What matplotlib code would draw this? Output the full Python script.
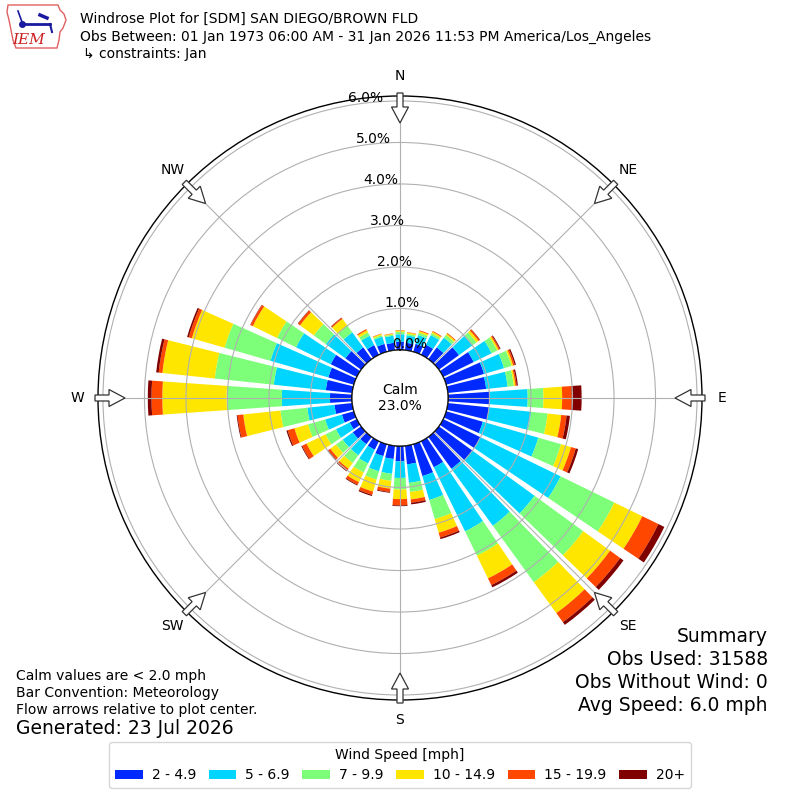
import numpy as np
import matplotlib
matplotlib.use("Agg")
import matplotlib.pyplot as plt
import matplotlib.transforms as mtransforms
from matplotlib.patches import Circle, FancyArrow, Patch, Polygon

# datos (porcentaje acumulado por direccion) --------------------------------------------
direcciones = list(range(0, 360, 10))

acum_2_5 = [0.20, 0.18, 0.20, 0.27, 0.35, 0.60, 0.82, 0.95, 0.93, 1.00, 1.00, 0.92,
            1.00, 1.00, 0.95, 0.70, 0.80, 0.45, 0.37, 0.32, 0.30, 0.23, 0.22, 0.25,
            0.19, 0.30, 0.43, 0.53, 0.64, 0.64, 0.70, 0.47, 0.35, 0.26, 0.20, 0.18]
acum_5_7 = [0.38, 0.36, 0.42, 0.53, 0.64, 1.00, 1.30, 1.45, 1.45, 1.92, 2.02, 2.31,
            3.15, 2.85, 2.65, 2.42, 1.40, 0.90, 0.77, 0.68, 0.68, 0.60, 0.55, 0.55,
            0.56, 0.72, 1.09, 1.69, 1.90, 2.09, 1.63, 1.05, 0.80, 0.51, 0.38, 0.35]
acum_7_10 = [0.44, 0.40, 0.48, 0.58, 0.72, 1.12, 1.45, 1.64, 1.60, 2.30, 2.42, 2.88,
             4.59, 4.30, 4.33, 3.07, 1.88, 1.12, 1.05, 0.85, 0.89, 0.84, 0.78, 0.75,
             0.84, 1.15, 1.74, 3.02, 3.33, 3.24, 2.14, 1.41, 1.00, 0.60, 0.42, 0.38]
acum_10_15 = [0.47, 0.43, 0.52, 0.62, 0.76, 1.18, 1.49, 1.68, 1.64, 2.75, 2.75, 3.13,
              5.34, 5.10, 5.25, 3.68, 2.22, 1.30, 1.28, 1.04, 1.19, 1.10, 0.95, 0.92,
              1.35, 1.49, 2.64, 4.57, 4.60, 4.06, 2.79, 1.82, 1.20, 0.66, 0.45, 0.40]
acum_15_20 = [0.48, 0.44, 0.54, 0.64, 0.78, 1.22, 1.52, 1.72, 1.67, 2.98, 2.88, 3.25,
              5.77, 5.40, 5.52, 3.86, 2.34, 1.38, 1.43, 1.12, 1.27, 1.17, 1.01, 0.98,
              1.47, 1.66, 2.78, 4.83, 4.69, 4.14, 2.85, 1.88, 1.23, 0.69, 0.46, 0.41]
acum_20 = [0.48, 0.44, 0.54, 0.64, 0.78, 1.23, 1.54, 1.75, 1.70, 3.22, 2.96, 3.31,
           5.93, 5.50, 5.60, 3.92, 2.38, 1.42, 1.45, 1.14, 1.30, 1.19, 1.03, 1.00,
           1.49, 1.69, 2.80, 4.92, 4.75, 4.18, 2.86, 1.89, 1.24, 0.69, 0.46, 0.41]

etiquetas_vel = ["2 - 4.9", "5 - 6.9", "7 - 9.9", "10 - 14.9", "15 - 19.9", "20+"]
etiquetas_rumbo = ["N", "NE", "E", "SE", "S", "SW", "W", "NW"]
ticks_r = [0, 1, 2, 3, 4, 5, 6]
calma = 23.0

titulo = ["Windrose Plot for [SDM] SAN DIEGO/BROWN FLD",
          "Obs Between: 01 Jan 1973 06:00 AM - 31 Jan 2026 11:53 PM America/Los_Angeles",
          "\u21b3 constraints: Jan"]
notas = ["Calm values are < 2.0 mph", "Bar Convention: Meteorology",
         "Flow arrows relative to plot center."]
generado = "Generated: 23 Jul 2026"
resumen = ["Summary", "Obs Used: 31588", "Obs Without Wind: 0", "Avg Speed: 6.0 mph"]

# figura ---------------------------------------------------------------------------------
fig = plt.figure(figsize=(8, 8), dpi=100, facecolor="white")
ax = fig.add_axes([0.1225, 0.125, 0.755, 0.755], projection="polar")
ax.set_theta_zero_location("N")
ax.set_theta_direction(-1)

r0 = 48.0 / 41.5
ax.set_rorigin(-r0)
ax.set_ylim(0, 6.12)

colores = plt.cm.jet(np.linspace(1 / 6, 1, 6))
acumulados = [acum_2_5, acum_5_7, acum_7_10, acum_10_15, acum_15_20, acum_20]
theta = np.radians(direcciones)
ancho = np.radians(8.0)
base = np.zeros(len(direcciones))
for tope, color in zip(acumulados, colores):
    tope = np.asarray(tope)
    ax.bar(theta, tope - base, width=ancho, bottom=base, color=color,
           edgecolor="none", linewidth=0, zorder=1)
    base = tope

ax.set_yticks(ticks_r)
ax.set_yticklabels([])
ax.set_xticks(np.radians(np.arange(0, 360, 45)))
ax.set_xticklabels(etiquetas_rumbo, fontsize=10)
ax.tick_params(axis="x", pad=4)
ax.grid(True, color="#b0b0b0", linewidth=0.8)
ax.spines["polar"].set_color("black")
ax.spines["polar"].set_linewidth(1.0)

# etiquetas radiales
trans_r = mtransforms.offset_copy(ax.transData, fig=fig, x=0, y=7, units="dots")
for t in ticks_r:
    ax.text(np.radians(350), t, f"{t:.1f}%", ha="left", va="center",
            fontsize=10, transform=trans_r, zorder=6)

# circulo de calma
radio_calma = 48.0 / 604.0
ax.add_patch(Circle((0.5, 0.5), radio_calma, transform=ax.transAxes,
                    facecolor="white", edgecolor="black", linewidth=1.0, zorder=4))
ax.text(0.5, 0.5, f"Calm\n{calma:.1f}%", transform=ax.transAxes, ha="center",
        va="center", fontsize=10, zorder=5)

# flechas de flujo
px = 1.0 / 604.0
for ang in np.arange(0, 360, 45):
    ux, uy = np.sin(np.radians(ang)), np.cos(np.radians(ang))
    x0, y0 = 0.5 + ux * 305 * px, 0.5 + uy * 305 * px
    flecha = FancyArrow(x0, y0, -ux * 30 * px, -uy * 30 * px, width=6 * px,
                        head_width=17 * px, head_length=16 * px,
                        length_includes_head=True, transform=ax.transAxes,
                        facecolor="white", edgecolor="#333333", linewidth=0.9,
                        clip_on=False, zorder=7)
    ax.add_patch(flecha)

# textos ---------------------------------------------------------------------------------
for i, linea in enumerate(titulo):
    fig.text(0.1 if i < 2 else 0.104, 1 - (19 + 17.5 * i) / 800, linea,
             fontsize=10, ha="left", va="center")

for i, linea in enumerate(notas):
    fig.text(0.02, 1 - (676 + 17 * i) / 800, linea, fontsize=10, ha="left", va="center")
fig.text(0.02, 1 - 728.5 / 800, generado, fontsize=13.5, ha="left", va="center")

for i, linea in enumerate(resumen):
    fig.text(0.96, 1 - (636 + 23.3 * i) / 800, linea, fontsize=13.5,
             ha="right", va="center")

manejadores = [Patch(facecolor=c, edgecolor="none", label=l)
               for c, l in zip(colores, etiquetas_vel)]
fig.legend(handles=manejadores, loc="lower center", bbox_to_anchor=(0.5, 0.015),
           borderaxespad=0, ncol=6, fontsize=10, title="Wind Speed [mph]",
           title_fontsize=10, columnspacing=0.9, handletextpad=0.65)

# logo IEM aproximado
axl = fig.add_axes([0.0, 0.93125, 0.09375, 0.06875])
axl.set_xlim(0, 75)
axl.set_ylim(55, 0)
axl.axis("off")
contorno = [(8, 5), (58, 5), (60, 10), (64, 14), (66, 20), (63, 28), (60, 32),
            (59, 40), (57, 48), (16, 48), (13, 40), (11, 30), (9, 20), (7, 12)]
axl.add_patch(Polygon(contorno, closed=True, facecolor="white",
                      edgecolor="#e06060", linewidth=1.0))
axl.plot([22, 50], [24, 24], color="#1a1aa0", linewidth=2.0)
axl.plot([18, 22], [11, 22], color="#1a1aa0", linewidth=1.2)
axl.plot([40, 47], [15, 18], color="#1a1aa0", linewidth=2.5)
axl.plot([50, 52], [24, 32], color="#1a1aa0", linewidth=1.5)
axl.plot([22], [24], marker="o", color="#1a1aa0", markersize=4)
axl.text(29, 40, "IEM", color="#cc2020", fontsize=11, fontstyle="italic",
         family="DejaVu Serif", ha="center", va="center")

fig.savefig("out.png", dpi=100, facecolor="white")
